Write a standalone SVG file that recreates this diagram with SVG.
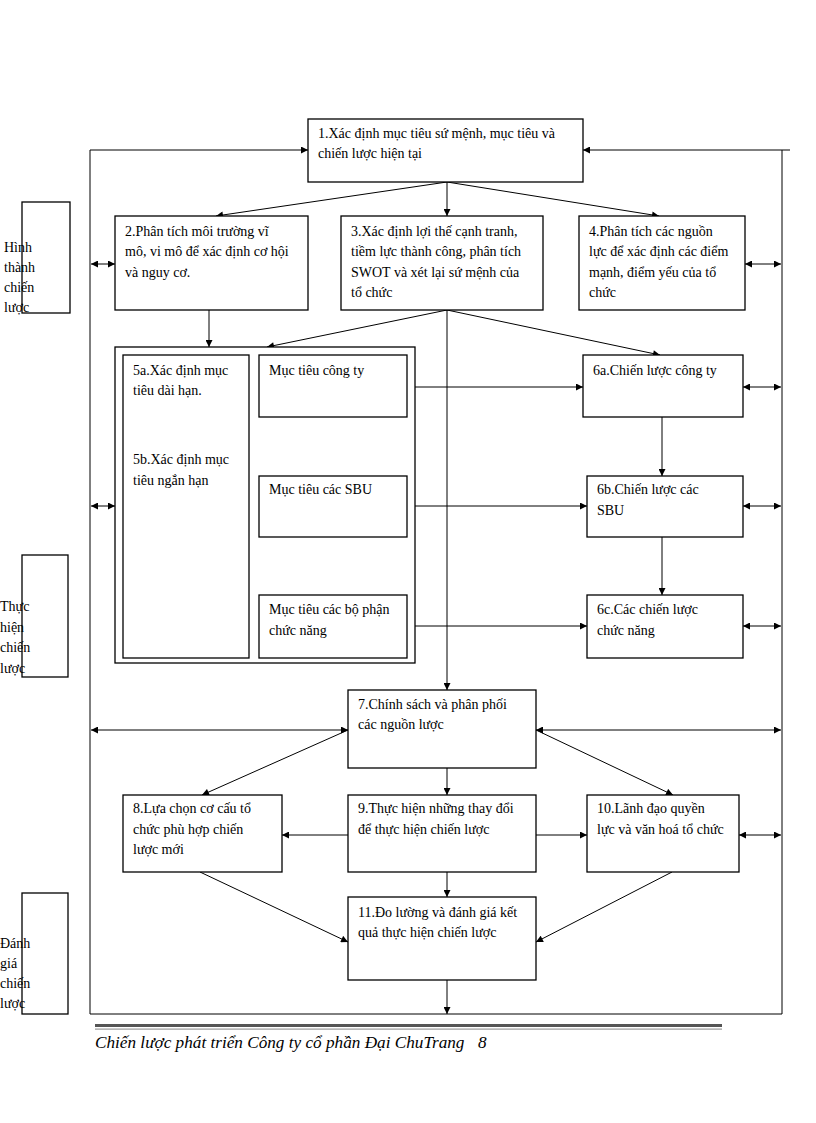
<svg xmlns="http://www.w3.org/2000/svg" width="816" height="1123" viewBox="0 0 816 1123">
<style>
.bx{fill:#fff;stroke:#000;stroke-width:1.3}
.sb{fill:none;stroke:#000;stroke-width:1.3}
.t{font-family:"Liberation Serif","Times New Roman",serif;font-size:14px;fill:#000}
.ln{stroke:#000;stroke-width:1;fill:none}
.a{marker-end:url(#ah)}
.d{marker-start:url(#ah);marker-end:url(#ah)}
.ft{font-family:"Liberation Serif","Times New Roman",serif;font-size:17.2px;font-style:italic;fill:#000}
</style>
<defs>
<marker id="ah" viewBox="0 0 10 10" refX="10" refY="5" markerWidth="8" markerHeight="7" markerUnits="userSpaceOnUse" orient="auto-start-reverse">
<path d="M0,0 L10,5 L0,10 z" fill="#000"/>
</marker>
</defs>
<rect width="816" height="1123" fill="#fff"/>

<g id="connectors">
<polyline class="ln" points="90,506 90,1014 782,1014 782,150"/>
<polyline class="ln a" points="90,506 90,150 308,150"/>
<line class="ln a" x1="790" y1="150" x2="583" y2="150"/>
<line class="ln a" x1="447" y1="182" x2="216" y2="216"/>
<line class="ln a" x1="447" y1="182" x2="447" y2="216"/>
<line class="ln a" x1="447" y1="182" x2="659" y2="216"/>
<line class="ln d" x1="91" y1="264" x2="115" y2="264"/>
<line class="ln d" x1="745" y1="264" x2="781" y2="264"/>
<line class="ln d" x1="91" y1="506" x2="115" y2="506"/>
<line class="ln d" x1="743" y1="387" x2="781" y2="387"/>
<line class="ln d" x1="743" y1="506" x2="781" y2="506"/>
<line class="ln d" x1="743" y1="626" x2="781" y2="626"/>
<line class="ln d" x1="91" y1="730" x2="348" y2="730"/>
<line class="ln d" x1="536" y1="730" x2="781" y2="730"/>
<line class="ln d" x1="739" y1="835" x2="781" y2="835"/>
<line class="ln a" x1="209" y1="310" x2="209" y2="347"/>
<line class="ln a" x1="447" y1="310" x2="267" y2="347"/>
<line class="ln a" x1="447" y1="310" x2="660" y2="355"/>
<line class="ln a" x1="447" y1="310" x2="447" y2="690"/>
<line class="ln a" x1="407" y1="387" x2="583" y2="387"/>
<line class="ln a" x1="407" y1="506" x2="587" y2="506"/>
<line class="ln a" x1="407" y1="626" x2="587" y2="626"/>
<line class="ln a" x1="662" y1="417" x2="662" y2="476"/>
<line class="ln a" x1="662" y1="537" x2="662" y2="595"/>
<line class="ln a" x1="348" y1="730" x2="202" y2="795"/>
<line class="ln a" x1="536" y1="730" x2="673" y2="795"/>
<line class="ln a" x1="447" y1="768" x2="447" y2="795"/>
<line class="ln a" x1="348" y1="835" x2="282" y2="835"/>
<line class="ln a" x1="536" y1="835" x2="587" y2="835"/>
<line class="ln a" x1="200" y1="872" x2="348" y2="942"/>
<line class="ln a" x1="447" y1="872" x2="447" y2="897"/>
<line class="ln a" x1="672" y1="872" x2="536" y2="942"/>
<line class="ln a" x1="447" y1="980" x2="447" y2="1014"/>
</g>

<g id="side1">
<rect class="sb" x="22" y="202" width="48" height="111"/>
<text class="t" x="4" y="252">Hình</text>
<text class="t" x="4" y="272">thành</text>
<text class="t" x="4" y="292">chiến</text>
<text class="t" x="4" y="312">lược</text>
</g>
<g id="side2">
<rect class="sb" x="22" y="555" width="46" height="122"/>
<text class="t" x="0" y="611">Thực</text>
<text class="t" x="0" y="632">hiện</text>
<text class="t" x="0" y="652">chiến</text>
<text class="t" x="0" y="673">lược</text>
</g>
<g id="side3">
<rect class="sb" x="22" y="893" width="46" height="121"/>
<text class="t" x="0" y="948">Đánh</text>
<text class="t" x="0" y="968">giá</text>
<text class="t" x="0" y="988">chiến</text>
<text class="t" x="0" y="1008">lược</text>
</g>

<g id="n1">
<rect class="bx" x="308" y="119" width="275" height="63"/>
<text class="t" x="318" y="138">1.Xác định mục tiêu sứ mệnh, mục tiêu và</text>
<text class="t" x="318" y="158">chiến lược hiện tại</text>
</g>
<g id="n2">
<rect class="bx" x="115" y="216" width="193" height="94"/>
<text class="t" x="125" y="236">2.Phân tích môi trường vĩ</text>
<text class="t" x="125" y="256">mô, vi mô để xác định cơ hội</text>
<text class="t" x="125" y="277">và nguy cơ.</text>
</g>
<g id="n3">
<rect class="bx" x="341" y="216" width="202" height="94"/>
<text class="t" x="351" y="236">3.Xác định lợi thế cạnh tranh,</text>
<text class="t" x="351" y="256">tiềm lực thành công, phân tích</text>
<text class="t" x="351" y="277">SWOT và xét lại sứ mệnh của</text>
<text class="t" x="351" y="297">tổ chức</text>
</g>
<g id="n4">
<rect class="bx" x="579" y="216" width="166" height="94"/>
<text class="t" x="589" y="236">4.Phân tích các nguồn</text>
<text class="t" x="589" y="256">lực để xác định các điểm</text>
<text class="t" x="589" y="277">mạnh, điểm yếu của tổ</text>
<text class="t" x="589" y="297">chức</text>
</g>
<g id="n5">
<rect class="bx" x="115" y="347" width="300" height="316"/>
<rect class="bx" x="123" y="355" width="126" height="303"/>
<text class="t" x="133" y="375">5a.Xác định mục</text>
<text class="t" x="133" y="395">tiêu dài hạn.</text>
<text class="t" x="133" y="464">5b.Xác định mục</text>
<text class="t" x="133" y="485">tiêu ngắn hạn</text>
</g>
<g id="n5c">
<rect class="bx" x="259" y="355" width="148" height="62"/>
<text class="t" x="269" y="375">Mục tiêu công ty</text>
</g>
<g id="n5s">
<rect class="bx" x="259" y="476" width="148" height="61"/>
<text class="t" x="269" y="494">Mục tiêu các SBU</text>
</g>
<g id="n5f">
<rect class="bx" x="259" y="595" width="148" height="63"/>
<text class="t" x="269" y="614">Mục tiêu các bộ phận</text>
<text class="t" x="269" y="635">chức năng</text>
</g>
<g id="n6a">
<rect class="bx" x="583" y="355" width="160" height="62"/>
<text class="t" x="593" y="375">6a.Chiến lược công ty</text>
</g>
<g id="n6b">
<rect class="bx" x="587" y="476" width="156" height="61"/>
<text class="t" x="597" y="494">6b.Chiến lược các</text>
<text class="t" x="597" y="515">SBU</text>
</g>
<g id="n6c">
<rect class="bx" x="587" y="595" width="156" height="63"/>
<text class="t" x="597" y="614">6c.Các chiến lược</text>
<text class="t" x="597" y="635">chức năng</text>
</g>
<g id="n7">
<rect class="bx" x="348" y="690" width="188" height="78"/>
<text class="t" x="358" y="709">7.Chính sách và phân phối</text>
<text class="t" x="358" y="729">các nguồn lược</text>
</g>
<g id="n8">
<rect class="bx" x="123" y="795" width="159" height="77"/>
<text class="t" x="133" y="813">8.Lựa chọn cơ cấu tổ</text>
<text class="t" x="133" y="834">chức phù hợp chiến</text>
<text class="t" x="133" y="854">lược mới</text>
</g>
<g id="n9">
<rect class="bx" x="348" y="795" width="188" height="77"/>
<text class="t" x="358" y="813">9.Thực hiện những thay đổi</text>
<text class="t" x="358" y="834">để thực hiện chiến lược</text>
</g>
<g id="n10">
<rect class="bx" x="587" y="795" width="152" height="77"/>
<text class="t" x="597" y="813">10.Lãnh đạo quyền</text>
<text class="t" x="597" y="834">lực và văn hoá tổ chức</text>
</g>
<g id="n11">
<rect class="bx" x="348" y="897" width="188" height="83"/>
<text class="t" x="358" y="917">11.Đo lường và đánh giá kết</text>
<text class="t" x="358" y="937">quả thực hiện chiến lược</text>
</g>

<g id="footer">
<rect x="95" y="1024" width="627" height="3" fill="#555"/>
<rect x="95" y="1028.5" width="627" height="1.2" fill="#999"/>
<text class="ft" x="95" y="1048">Chiến lược phát triển Công ty cổ phần Đại ChuTrang<tspan x="478">8</tspan></text>
</g>
</svg>
